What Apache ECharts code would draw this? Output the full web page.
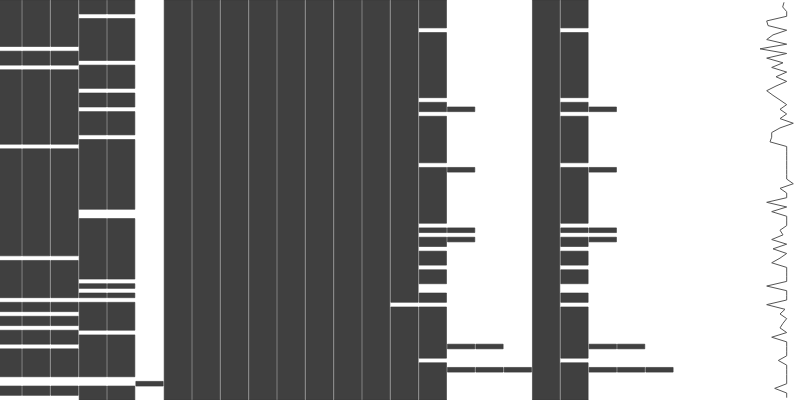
<!DOCTYPE html>
<html><head><meta charset="utf-8">
<script src="https://cdn.jsdelivr.net/npm/echarts@6/dist/echarts.min.js"></script>
<style>html,body{margin:0;padding:0;background:#fff}#c{width:800px;height:400px}</style>
</head><body><div id="c"></div>
<script>
// ---- data (row indices, top = 0) ----
const nRows = 86;
const nCols = 27;
const missingCols0to2 = [10, 14, 31, 55, 64, 67, 70, 74, 81, 82, 85];
const missingCols3to4 = [3, 13, 19, 23, 29, 45, 46, 60, 62, 64, 71, 81, 82];
const presentCol5 = [82];
const missingCol14 = [65];
const missingCols15and20 = [6, 21, 24, 35, 48, 50, 53, 57, 61, 62, 65, 77];
const presentCols16and21 = [23, 36, 49, 51, 74, 79];
const presentCols17and22 = [74, 79];
const presentCols18and23 = [79];
// row completeness sparkline (one value per row)
const sparkline = [
  26, 24.7, 28.7, 28.7, 8.7, 10, 28.7, 15, 8.7, 28.7,
  2, 28.7, 8.7, 25, 13.7, 28.7, 18, 28.7, 18, 8.7,
  15, 22, 28.7, 22, 28.7, 22, 35.3, 22, 13.7, 13.7,
  12, 28.7, 28.7, 28.7, 28.7, 28.7, 28.7, 28.7, 28.7, 35.3,
  22, 28.7, 28.7, 8.7, 28.7, 13.7, 28.7, 28.7, 28.7, 22,
  25, 13.7, 28.7, 15, 28.7, 22, 13.7, 28.7, 28.7, 28.7,
  28.7, 8.7, 28.7, 28.7, 28.7, 8.7, 27, 22, 28.7, 25,
  22, 28.7, 13.7, 28.7, 28.7, 28.7, 28.7, 20.3, 28.7, 28.7,
  28.7, 28.7, 28.7, 16.7, 28.7, 28.7
];

// ---- build column presence ----
const allRows = Array.from({length: nRows}, (_, i) => i);
const fromMissing = m => allRows.filter(r => !m.includes(r));
const full = allRows.slice();
const colPresent = [
  fromMissing(missingCols0to2), fromMissing(missingCols0to2), fromMissing(missingCols0to2),
  fromMissing(missingCols3to4), fromMissing(missingCols3to4),
  presentCol5,
  full, full, full, full, full, full, full, full,
  fromMissing(missingCol14),
  fromMissing(missingCols15and20), presentCols16and21, presentCols17and22, presentCols18and23,
  full,
  fromMissing(missingCols15and20), presentCols16and21, presentCols17and22, presentCols18and23,
  [], [], []
];
const runs = [];
colPresent.forEach((rows, c) => {
  let start = null, prev = null;
  rows.forEach(r => {
    if (start === null) { start = r; prev = r; return; }
    if (r === prev + 1) { prev = r; return; }
    runs.push([c, start, prev + 1]); start = r; prev = r;
  });
  if (start !== null) runs.push([c, start, prev + 1]);
});

function renderItem(params, api) {
  const c = api.value(0), r0 = api.value(1), r1 = api.value(2);
  const p0 = api.coord([c, r0]), p1 = api.coord([c + 1, r1]);
  const x0 = Math.min(p0[0], p1[0]), x1 = Math.max(p0[0], p1[0]);
  const y0 = Math.min(p0[1], p1[1]), y1 = Math.max(p0[1], p1[1]);
  return {
    type: 'rect',
    shape: {x: x0 + 0.5, y: y0, width: x1 - x0 - 1, height: y1 - y0},
    style: {fill: '#404040', stroke: '#363636', lineWidth: 0.6}
  };
}

const chart = echarts.init(document.getElementById('c'), null, {renderer: 'canvas'});
chart.setOption({
  animation: false,
  backgroundColor: '#ffffff',
  grid: [
    {left: 0, right: 41.4, top: 0, bottom: 0},
    {left: 758, right: 0, top: 0, bottom: 0}
  ],
  xAxis: [
    {type: 'value', gridIndex: 0, min: 0.2224, max: 27, show: false},
    {type: 'value', gridIndex: 1, min: 0, max: 42, show: false}
  ],
  yAxis: [
    {type: 'value', gridIndex: 0, inverse: true, min: 0, max: nRows, show: false},
    {type: 'value', gridIndex: 1, inverse: true, min: 0, max: nRows, show: false}
  ],
  series: [
    {
      type: 'custom', xAxisIndex: 0, yAxisIndex: 0, clip: true,
      renderItem: renderItem, encode: {x: 0, y: [1, 2]}, data: runs
    },
    {
      type: 'line', xAxisIndex: 1, yAxisIndex: 1, symbol: 'none',
      lineStyle: {color: '#555555', width: 1},
      data: sparkline.map((v, i) => [v, i + 0.5])
    }
  ]
});
</script>
</body></html>
